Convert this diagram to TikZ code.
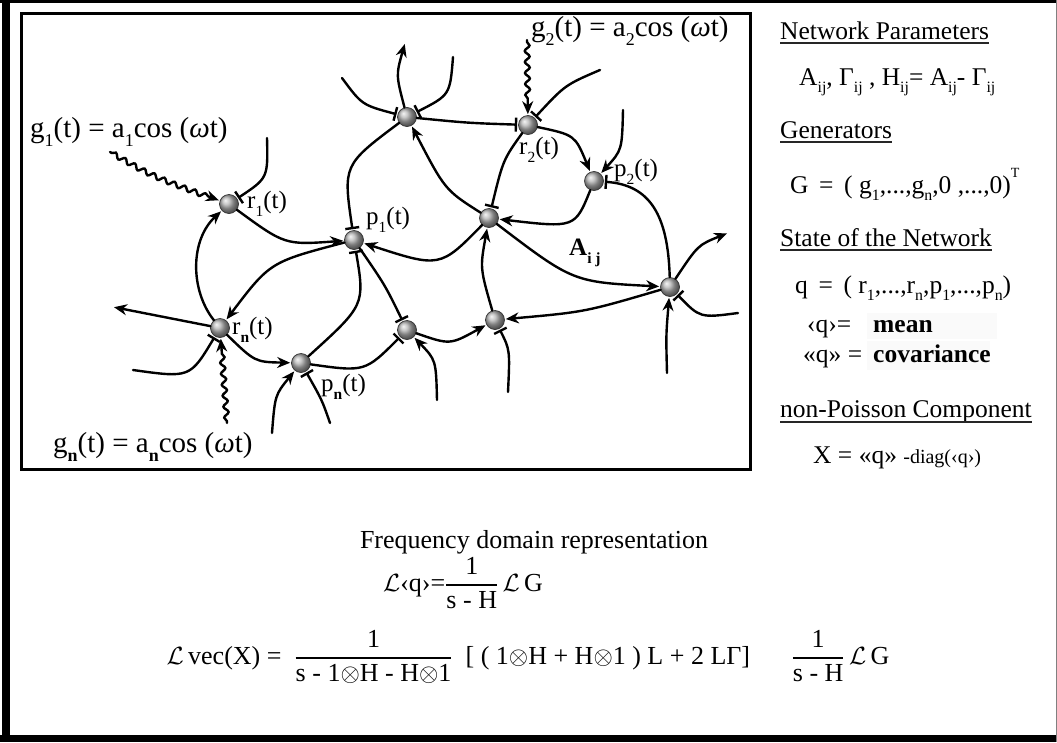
\documentclass[tikz,border=0pt]{standalone}
\usepackage{amsmath}
\usepackage{graphicx}
\usepackage{fontspec}
\setmainfont{Liberation Serif}
\usetikzlibrary{arrows.meta,decorations.pathmorphing}
\newcommand{\mysub}[1]{\raisebox{-0.3em}{\scalebox{0.62}{#1}}}
\newcommand{\mysup}[1]{\raisebox{0.62em}{\scalebox{0.55}{#1}}}
\newcommand{\pxfont}[1]{\fontsize{#1}{#1}\selectfont}
\begin{document}
\begin{tikzpicture}[x=1pt,y=-1pt,
  edge/.style={line width=2.4pt, line cap=round, shorten >=1pt},
  act/.style={edge, -{Stealth[length=13pt,width=11pt]}},
  inh/.style={edge, -{Bar[width=14pt]}},
  wave/.style={edge, -{Stealth[length=13pt,width=11pt]}, decorate,
     decoration={snake,amplitude=2.4pt,segment length=11pt,pre length=2pt,post length=12pt}},
  ball/.style={circle, minimum size=19pt, inner sep=0pt, ball color=gray!60,
     draw=gray!40!black, line width=0.7pt},
  lab/.style={font={\pxfont{25}}, inner sep=0pt, anchor=west},
  glab/.style={font={\pxfont{29}}, inner sep=0pt, anchor=west},
  rp/.style={font={\pxfont{25.5}}, inner sep=0pt, anchor=base west},
  uline/.style={line width=1.8pt, black!85},
  ff/.style={font={\pxfont{26}}, inner sep=0pt},
]
\useasboundingbox (0,0) rectangle (1057,742);
% outer frame
\fill[black] (0,0) rectangle (1057,3);
\fill[black] (2,0) rectangle (10,742);
\fill[black] (0,735) rectangle (1057,742);
\draw[gray, line width=1pt] (1056.5,0) -- (1056.5,742);
% inner box
\draw[line width=3pt] (21.5,13.5) rectangle (750.5,469.5);

% nodes
\node[ball] (r1) at (229,204) {};
\node[ball] (p1) at (354,240) {};
\node[ball] (T)  at (407,117) {};
\node[ball] (r2) at (528,125) {};
\node[ball] (p2) at (594,181) {};
\node[ball] (C)  at (489,218) {};
\node[ball] (rn) at (220,328) {};
\node[ball] (pn) at (301,363) {};
\node[ball] (M)  at (407,330) {};
\node[ball] (N)  at (495,320) {};
\node[ball] (R)  at (670,287) {};

% free ends
\coordinate (g1s) at (110,152);
\coordinate (g2s) at (527,40);
\coordinate (gns) at (227,423);
\coordinate (f1) at (267,138);
\coordinate (fT1) at (342,78);
\coordinate (fT2) at (453,57);
\coordinate (fT3) at (405,43);
\coordinate (fr2) at (600,70);
\coordinate (fp2) at (623,110);
\coordinate (fR1) at (728,233);
\coordinate (fR2) at (667,373);
\coordinate (fR3) at (738,313);
\coordinate (fN) at (508,392);
\coordinate (fM) at (437,400);
\coordinate (fn1) at (113,307);
\coordinate (frn) at (133,370);
\coordinate (fpn1) at (272,433);
\coordinate (fpn2) at (330,423);

% generator inputs
\draw[wave] (g1s) .. controls (150,175) .. (r1);
\draw[wave] (g2s) -- (r2);
\draw[wave] (gns) -- (rn);

% connectors
\draw[inh] (f1) .. controls (268,178) .. (r1);
\draw[act] (r1) .. controls (285,245) .. (p1);
\draw[act] (rn) .. controls (190,290) and (190,240) .. (r1);
\draw[inh] (fT1) .. controls (362,105) .. (T);
\draw[inh] (fT2) .. controls (450,95) .. (T);
\draw[act] (T) .. controls (396,75) .. (fT3);
\draw[inh] (T) .. controls (468,123) .. (r2);
\draw[act] (C) .. controls (445,190) .. (T);
\draw[inh] (r2) .. controls (503,160) .. (C);
\draw[inh] (fr2) .. controls (565,85) .. (r2);
\draw[act] (r2) .. controls (575,135) .. (p2);
\draw[act] (fp2) .. controls (622,150) .. (p2);
\draw[act] (p2) .. controls (575,228) .. (C);
\draw[inh] (R) .. controls (668,215) and (650,185) .. (p2);
\draw[act] (R) .. controls (698,245) .. (fR1);
\draw[act] (C) .. controls (440,268) .. (p1);
\draw[act] (C) .. controls (573,282) .. (R);
\draw[act] (N) .. controls (480,268) .. (C);
\draw[act] (R) .. controls (585,312) .. (N);
\draw[inh] (fN) .. controls (510,350) .. (N);
\draw[act] (M) .. controls (450,345) .. (N);
\draw[act] (fM) .. controls (436,360) .. (M);
\draw[inh] (p1) .. controls (385,285) .. (M);
\draw[inh] (pn) .. controls (365,372) .. (M);
\draw[inh] (pn) .. controls (365,305) .. (p1);
\draw[act] (fR2) .. controls (666,335) .. (R);
\draw[inh] (fR3) .. controls (700,318) .. (R);
\draw[act] (p1) .. controls (270,262) .. (rn);
\draw[act] (rn) -- (fn1);
\draw[inh] (frn) .. controls (190,378) .. (rn);
\draw[act] (rn) .. controls (255,362) .. (pn);
\draw[act] (fpn1) .. controls (275,395) .. (pn);
\draw[inh] (fpn2) .. controls (322,400) .. (pn);
\draw[inh] (T) .. controls (343,165) .. (p1);

% node labels
\node[lab] (lr1) at (247,204) {r\mysub{1}(t)};
\node[lab] (lp1) at (366,220) {p\mysub{1}(t)};
\node[lab] (lr2) at (519,150) {r\mysub{2}(t)};
\node[lab] (lp2) at (614,172) {p\mysub{2}(t)};
\node[lab] (lrn) at (232,330) {r\mysub{\textbf{n}}(t)};
\node[lab] (lpn) at (321,387) {p\mysub{\textbf{n}}(t)};
\node[lab] (laij) at (569,253) {\textbf{A}\mysub{\textbf{i j}}};

\node[glab] (lg1) at (30,132) {g\mysub{1}(t) = a\mysub{1}cos (\textit{ω}t)};
\node[glab] (lg2) at (531,31) {g\mysub{2}(t) = a\mysub{2}cos (\textit{ω}t)};
\node[glab] (lgn) at (53,447) {g\mysub{\textbf{n}}(t) = a\mysub{\textbf{n}}cos (\textit{ω}t)};

% right panel
\fill[black!2] (867,313) rectangle (997,339);
\fill[black!2] (867,341) rectangle (990,370);
\node[rp] (h1) at (780,39) {Network Parameters};
\draw[uline] ([yshift=-4pt]h1.base west) -- ([yshift=-4pt]h1.base east);
\node[rp] (t1) at (799,85) {A\mysub{ij}, Γ\mysub{ij} , H\mysub{ij}= A\mysub{ij}- Γ\mysub{ij}};
\node[rp] (h2) at (780,138) {Generators};
\draw[uline] ([yshift=-4pt]h2.base west) -- ([yshift=-4pt]h2.base east);
\node[rp] (t2) at (790,193) {G \,=\, ( g\mysub{1},...,g\mysub{n},0 ,...,0)\mysup{T}};
\node[rp] (h3) at (780,246) {State of the Network};
\draw[uline] ([yshift=-4pt]h3.base west) -- ([yshift=-4pt]h3.base east);
\node[rp] (t3) at (795,293) {q \,=\, ( r\mysub{1},...,r\mysub{n},p\mysub{1},...,p\mysub{n})};
\node[rp] (t4) at (807,332) {‹q›=};
\node[rp] (t4b) at (873,332) {\textbf{mean}};
\node[rp] (t5) at (803,362) {«q» =};
\node[rp] (t5b) at (873,362) {\textbf{covariance}};
\node[rp] (h4) at (780,417) {non-Poisson Component};
\draw[uline] ([yshift=-5pt]h4.base west) -- ([yshift=-5pt]h4.base east);
\node[rp] (t6) at (813,463) {X = «q» {\pxfont{20}-diag(‹q›)}};

% bottom formulas
\node[ff, anchor=base] (fd) at (534,548) {Frequency domain representation};
\node[ff] (e1) at (463,583) {$\mathcal{L}$‹q›=$\genfrac{}{}{1.6pt}{0}{\text{1}}{\text{s - H}}$\,$\mathcal{L}$\,G};
\node[ff] (e2) at (528,657) {$\mathcal{L}$\,vec(X) =\enspace$\genfrac{}{}{1.6pt}{0}{\text{1}}{\text{s - 1$\otimes$H - H$\otimes$1}}$\enspace[ ( 1$\otimes$H + H$\otimes$1 ) L + 2 LΓ]\hspace{1.6em}$\genfrac{}{}{1.6pt}{0}{\text{1}}{\text{s - H}}$\,$\mathcal{L}$\,G};
\end{tikzpicture}
\end{document}
